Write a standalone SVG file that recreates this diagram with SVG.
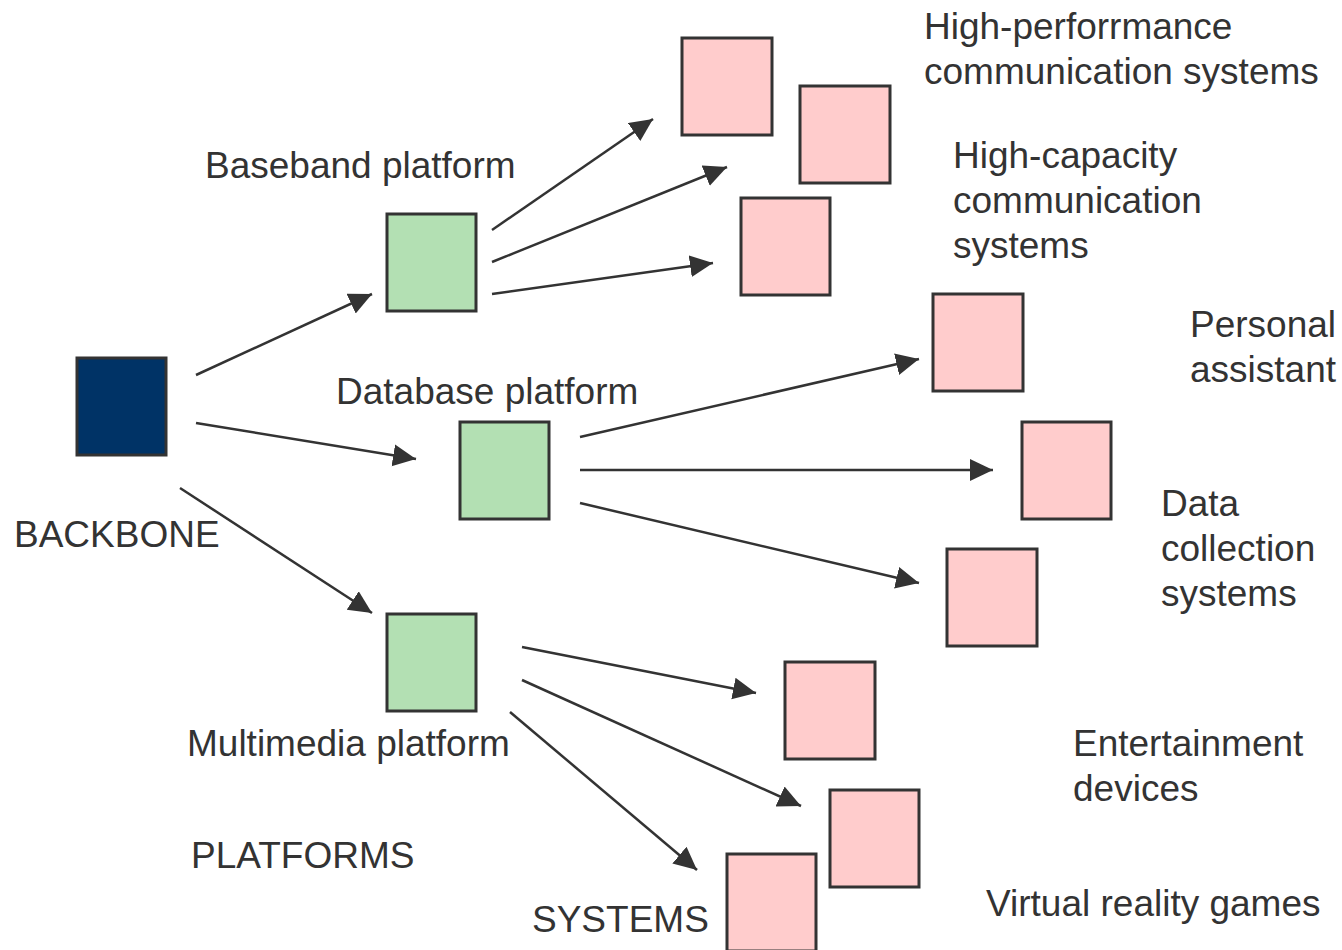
<svg xmlns="http://www.w3.org/2000/svg" width="1342" height="950" viewBox="0 0 1342 950">
  <style>
    .box { stroke: #333333; stroke-width: 3; }
    .core { fill: #003366; }
    .platform { fill: #b3e0b3; }
    .system { fill: #ffcccc; }
    .lbl { font-family: "Liberation Sans", Arial, sans-serif; font-size: 37px; fill: #333333; }
    .edge { stroke: #333333; stroke-width: 2.5; fill: none; marker-end: url(#head); }
  </style>
  <defs>
    <marker id="head" markerUnits="userSpaceOnUse" markerWidth="24" markerHeight="24" refX="23" refY="11" orient="auto">
      <path d="M0,0 L23,11 L0,22 Z" fill="#333333"/>
    </marker>
  </defs>
  <rect width="1342" height="950" fill="#ffffff"/>

  <!-- connectors -->
  <g id="connectors">
    <line class="edge" x1="196" y1="375" x2="372" y2="294"/>
    <line class="edge" x1="196" y1="423" x2="416" y2="459"/>
    <line class="edge" x1="180" y1="488" x2="372" y2="613"/>
    <line class="edge" x1="492" y1="230" x2="653" y2="119"/>
    <line class="edge" x1="492" y1="262" x2="727" y2="167"/>
    <line class="edge" x1="492" y1="294" x2="713" y2="263"/>
    <line class="edge" x1="580" y1="437" x2="919" y2="359"/>
    <line class="edge" x1="580" y1="470" x2="993" y2="470"/>
    <line class="edge" x1="580" y1="503" x2="919" y2="583"/>
    <line class="edge" x1="522" y1="647" x2="756" y2="693"/>
    <line class="edge" x1="522" y1="680" x2="801" y2="806"/>
    <line class="edge" x1="510" y1="712" x2="697" y2="870"/>
  </g>

  <!-- backbone -->
  <g id="backbone">
    <rect class="box core" x="77" y="358" width="89" height="97"/>
    <text class="lbl" x="14" y="547">BACKBONE</text>
  </g>

  <!-- platforms -->
  <g id="baseband">
    <rect class="box platform" x="387" y="214" width="89" height="97"/>
    <text class="lbl" x="205" y="178">Baseband platform</text>
  </g>
  <g id="database">
    <rect class="box platform" x="460" y="422" width="89" height="97"/>
    <text class="lbl" x="336" y="404">Database platform</text>
  </g>
  <g id="multimedia">
    <rect class="box platform" x="387" y="614" width="89" height="97"/>
    <text class="lbl" x="187" y="756">Multimedia platform</text>
  </g>

  <!-- systems -->
  <g id="hp-comm">
    <rect class="box system" x="682" y="38" width="90" height="97"/>
    <text class="lbl" x="924" y="39">High-perforrmance</text>
    <text class="lbl" x="924" y="84">communication systems</text>
  </g>
  <g id="hc-comm-a">
    <rect class="box system" x="800" y="86" width="90" height="97"/>
  </g>
  <g id="hc-comm-b">
    <rect class="box system" x="741" y="198" width="89" height="97"/>
    <text class="lbl" x="953" y="168">High-capacity</text>
    <text class="lbl" x="953" y="213">communication</text>
    <text class="lbl" x="953" y="258">systems</text>
  </g>
  <g id="personal">
    <rect class="box system" x="933" y="294" width="90" height="97"/>
    <text class="lbl" x="1190" y="337">Personal</text>
    <text class="lbl" x="1190" y="382">assistant</text>
  </g>
  <g id="data-a">
    <rect class="box system" x="1022" y="422" width="89" height="97"/>
    <text class="lbl" x="1161" y="516">Data</text>
    <text class="lbl" x="1161" y="561">collection</text>
    <text class="lbl" x="1161" y="606">systems</text>
  </g>
  <g id="data-b">
    <rect class="box system" x="947" y="549" width="90" height="97"/>
  </g>
  <g id="entertainment">
    <rect class="box system" x="785" y="662" width="90" height="97"/>
    <text class="lbl" x="1073" y="756">Entertainment</text>
    <text class="lbl" x="1073" y="801">devices</text>
  </g>
  <g id="vr-a">
    <rect class="box system" x="830" y="790" width="89" height="97"/>
    <text class="lbl" x="986" y="916">Virtual reality games</text>
  </g>
  <g id="vr-b">
    <rect class="box system" x="727" y="854" width="89" height="97"/>
  </g>

  <!-- column captions -->
  <g id="captions">
    <text class="lbl" x="191" y="868">PLATFORMS</text>
    <text class="lbl" x="532" y="932">SYSTEMS</text>
  </g>
</svg>
